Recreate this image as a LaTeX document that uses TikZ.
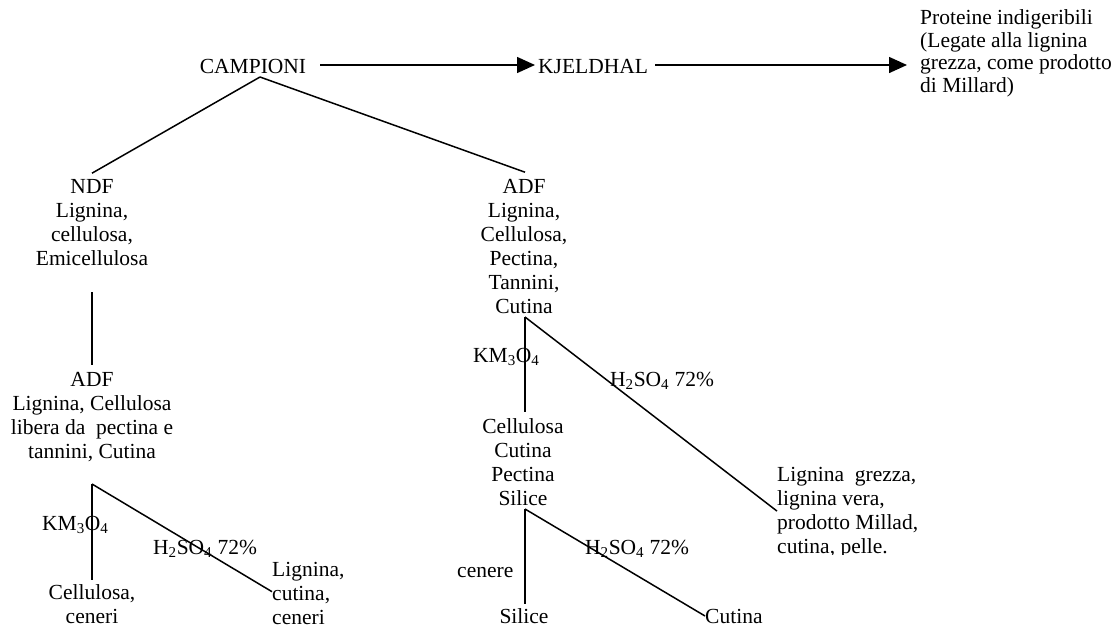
\documentclass[tikz,border=0pt]{standalone}
\usepackage{fontspec}
\setmainfont{Liberation Serif}
\usetikzlibrary{arrows.meta}
\newcommand\fsz{\fontsize{21.5}{24}\selectfont}
\newcommand\fsp{\fontsize{21.5}{22.5}\selectfont}
\begin{document}
\begin{tikzpicture}[x=1pt,y=-1pt,
  txt/.style={inner sep=0pt, font=\fsz},
  ln/.style={line width=1.5pt},
  arr/.style={line width=1.5pt, -{Triangle[length=18pt,width=16pt]}}]
\useasboundingbox (0,0) rectangle (1113,627);
% texts
\node[txt, anchor=base] (camp) at (253,73) {CAMPIONI};
\node[txt, anchor=base west] (kj) at (538,73) {KJELDHAL};
\node[txt, font=\fsp, anchor=north west, align=left] (prot) at (920,9)
  {\strut Proteine indigeribili\\(Legate alla lignina\\grezza, come prodotto\\di Millard)};
\node[txt, anchor=north, align=center] (ndf) at (92,176.2)
  {\strut NDF\\Lignina,\\cellulosa,\\Emicellulosa};
\node[txt, anchor=north, align=center] (adfr) at (524,176.2)
  {\strut ADF\\Lignina,\\Cellulosa,\\Pectina,\\Tannini,\\Cutina};
\node[txt, anchor=north, align=center] (adfl) at (92,369.2)
  {\strut ADF\\Lignina, Cellulosa\\libera da\ \ pectina e\\tannini, Cutina};
\node[txt, anchor=north, align=center] (cc) at (92,582)
  {\strut Cellulosa,\\ceneri};
\node[txt, anchor=north west, align=left] (lcc) at (272,559)
  {\strut Lignina,\\cutina,\\ceneri};
\node[txt, anchor=north, align=center] (ccps) at (523,416.2)
  {\strut Cellulosa\\Cutina\\Pectina\\Silice};
\begin{scope}
\clip (770,440) rectangle (1000,554);
\node[txt, anchor=north west, align=left] (lg) at (777,464.2)
  {\strut Lignina\ \ grezza,\\lignina vera,\\prodotto Millad,\\cutina, pelle.};
\end{scope}
\node[txt, anchor=base] (sil) at (524,623) {Silice};
\node[txt, anchor=base west] (cut) at (705,623) {Cutina};
% labels
\node[txt, anchor=base west] (k1) at (42,530) {KM\textsubscript{3}O\textsubscript{4}};
\node[txt, anchor=base west] (h1) at (153,554) {H\textsubscript{2}SO\textsubscript{4} 72\%};
\node[txt, anchor=base west] (k2) at (473,362) {KM\textsubscript{3}O\textsubscript{4}};
\node[txt, anchor=base west] (h2) at (610,386) {H\textsubscript{2}SO\textsubscript{4} 72\%};
\node[txt, anchor=base west] (h3) at (585,554) {H\textsubscript{2}SO\textsubscript{4} 72\%};
\node[txt, anchor=base west] (cen) at (457,577) {cenere};
% junctions
\coordinate (a1) at (320,65);
\coordinate (a2) at (655,65);
\coordinate (j0) at (260,77);
\coordinate (n1) at (92,292);
\coordinate (j1) at (92,484);
\coordinate (j2) at (525,317);
\coordinate (j3) at (525,509);
% connectors
\draw[arr, shorten >=3pt] (a1) -- (a1 -| kj.west);
\draw[arr, shorten >=13pt] (a2) -- (a2 -| prot.west);
\draw[ln] (j0) -- ([yshift=3pt]ndf.north);
\draw[ln] (j0) -- ([xshift=1pt,yshift=4pt]adfr.north);
\draw[ln] (n1) -- ([yshift=4pt]adfl.north);
\draw[ln] (j1) -- ([yshift=2pt]cc.north);
\draw[ln] (j1) -- (lcc.west);
\draw[ln] (j2) -- ([xshift=2pt,yshift=4pt]ccps.north);
\draw[ln] (j2) -- (lg.west);
\draw[ln] (j3) -- ([xshift=1pt,yshift=4pt]sil.north);
\draw[ln] (j3) -- (cut.west);
\end{tikzpicture}
\end{document}
